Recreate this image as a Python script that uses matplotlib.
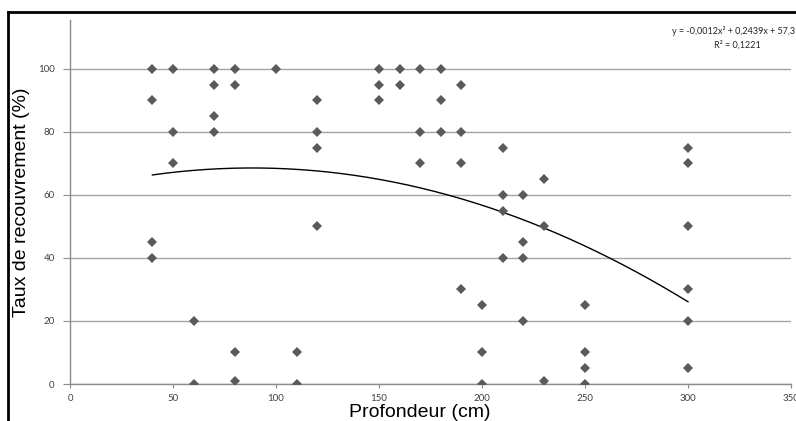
import numpy as np
import matplotlib
matplotlib.use('Agg')
import matplotlib.pyplot as plt
from matplotlib.lines import Line2D

# profondeur (cm) et taux de recouvrement (%)
profondeur = [40, 40, 40, 40,
              50, 50, 50,
              60, 60,
              70, 70, 70, 70,
              80, 80, 80, 80,
              100,
              110, 110,
              120, 120, 120, 120,
              150, 150, 150,
              160, 160,
              170, 170, 170,
              180, 180, 180,
              190, 190, 190, 190,
              200, 200, 200,
              210, 210, 210, 210,
              220, 220, 220, 220,
              230, 230, 230,
              250, 250, 250, 250,
              300, 300, 300, 300, 300, 300]
recouvrement = [100, 90, 45, 40,
                100, 80, 70,
                20, 0,
                100, 95, 85, 80,
                100, 95, 10, 1,
                100,
                10, 0,
                90, 80, 75, 50,
                100, 95, 90,
                100, 95,
                100, 80, 70,
                100, 90, 80,
                95, 80, 70, 30,
                25, 10, 0,
                75, 60, 55, 40,
                60, 45, 40, 20,
                65, 50, 1,
                25, 10, 5, 0,
                75, 70, 50, 30, 20, 5]

equation = "y = -0,0012x² + 0,2439x + 57,3"
r2_text = "R² = 0,1221"

x = np.array(profondeur, dtype=float)
y = np.array(recouvrement, dtype=float)

W, H = 796, 421
fig = plt.figure(figsize=(W / 100, H / 100), dpi=100)
ax = fig.add_axes([70 / W, (H - 384) / H, 721 / W, 364 / H])

# courbe de tendance polynomiale (ordre 2)
coef = np.polyfit(x, y, 2)
xs = np.linspace(x.min(), x.max(), 200)
ax.plot(xs, np.polyval(coef, xs), color='black', lw=1.0, zorder=3)

ax.plot(x, y, linestyle='none', marker='D', markersize=5,
        color='#5a5a5a', markeredgewidth=0, zorder=4)

ax.set_xlim(0, 350)
ax.set_ylim(0, 115.5)
ax.set_xticks(np.arange(0, 351, 50))
ax.set_yticks(np.arange(0, 101, 20))
ax.yaxis.grid(True, color='#a6a6a6', lw=1.0)
ax.set_axisbelow(True)

for s in ['top', 'right']:
    ax.spines[s].set_visible(False)
for s in ['left', 'bottom']:
    ax.spines[s].set_color('#8c8c8c')
    ax.spines[s].set_linewidth(1.0)

ax.tick_params(axis='x', direction='out', length=3, color='#8c8c8c',
               labelsize=7, labelcolor='#404040', pad=4)
ax.tick_params(axis='y', direction='out', length=5, color='#8c8c8c',
               labelsize=7, labelcolor='#404040', pad=6)
for lab in ax.get_xticklabels() + ax.get_yticklabels():
    lab.set_family('Lato')

ax.set_xlabel('Profondeur (cm)', fontsize=14, family='Liberation Sans')
ax.xaxis.set_label_coords((420 - 70) / 721, -(404 - 384) / 364)
ax.set_ylabel('Taux de recouvrement (%)', fontsize=14, family='Liberation Sans')
ax.yaxis.set_label_coords(-(70 - 30) / 721, 0.5)

fig.text(795 / W, 1 - 31 / H, equation, ha='right', va='center',
         fontsize=6.5, family='Lato', color='#262626')
fig.text(737 / W, 1 - 45 / H, r2_text, ha='center', va='center',
         fontsize=6.5, family='Lato', color='#262626')

# cadre noir du graphique (coupé à droite et en bas)
fig.add_artist(Line2D([8 / W, 1.0], [1 - 12 / H, 1 - 12 / H],
                      transform=fig.transFigure, color='black', lw=2))
fig.add_artist(Line2D([8 / W, 8 / W], [0.0, 1 - 12 / H],
                      transform=fig.transFigure, color='black', lw=2))

fig.savefig('out.png', dpi=100)
